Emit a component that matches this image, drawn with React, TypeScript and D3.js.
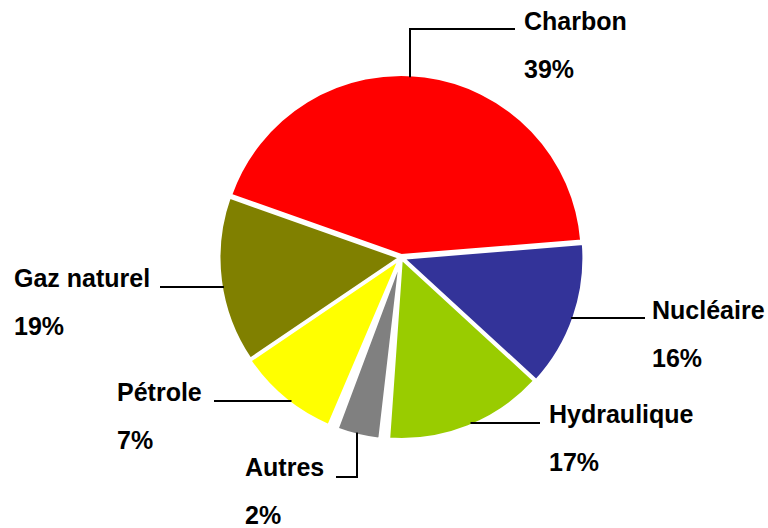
import React from 'react';
import * as d3 from 'd3';

// ---- data ----
const categories = ['Charbon', 'Nucléaire', 'Hydraulique', 'Autres', 'Pétrole', 'Gaz naturel'];
// slice sizes as drawn (share of the full circle, %)
const sliceShares = [43.3, 13.1, 14.3, 5.3, 9.1, 14.9];
// percentages printed on the labels
const percentLabels = ['39%', '16%', '17%', '2%', '7%', '19%'];
const colors = ['#FF0000', '#333399', '#99CC00', '#808080', '#FFFF00', '#808000'];

// ---- layout ----
const W = 768;
const H = 528;
const cx = 401;
const cy = 257.5;
const R = 181;
const startDeg = -70.5;
const explode = [2, 2, 1, 2, 2, 1];
const extraPad = [0, 0, 0, 0.09, 0, 0];

type LabelLayout = {
  kind: 'h' | 'v';
  at: number; // y for horizontal leader, x for vertical leader
  elbow?: number; // y of horizontal part for vertical leaders
  end: number; // x where leader ends
  tx: number;
  ty: number;
};

const labelLayout: LabelLayout[] = [
  { kind: 'v', at: 410, elbow: 29, end: 515, tx: 524, ty: 30 },
  { kind: 'h', at: 318, end: 645, tx: 652, ty: 319 },
  { kind: 'h', at: 423, end: 540, tx: 549, ty: 423 },
  { kind: 'v', at: 357, elbow: 477, end: 336, tx: 245, ty: 476 },
  { kind: 'h', at: 401, end: 214, tx: 117, ty: 401 },
  { kind: 'h', at: 287, end: 160, tx: 14, ty: 287 },
];

const FONT = "'Liberation Sans', Arial, Helvetica, sans-serif";

export default function App() {
  const pie = d3
    .pie<number>()
    .sort(null)
    .value((d) => d)
    .startAngle((startDeg * Math.PI) / 180)
    .endAngle((startDeg * Math.PI) / 180 + 2 * Math.PI);
  const arcs = pie(sliceShares);

  const arcGen = d3
    .arc<d3.PieArcDatum<number>>()
    .innerRadius(0)
    .outerRadius(R)
    .padAngle((d) => extraPad[d.index]);

  const centers = arcs.map((a, i) => {
    const mid = (a.startAngle + a.endAngle) / 2;
    return {
      x: cx + explode[i] * Math.sin(mid),
      y: cy - explode[i] * Math.cos(mid),
      mid,
    };
  });

  const rAnchor = R - 2.5;

  const leaders = labelLayout.map((L, i) => {
    const c = centers[i];
    const side = Math.sin(c.mid) >= 0 ? 1 : -1;
    const vert = Math.cos(c.mid) >= 0 ? -1 : 1;
    let pts: [number, number][];
    if (L.kind === 'h') {
      const dy = L.at - c.y;
      const dx = Math.sqrt(Math.max(0, rAnchor * rAnchor - dy * dy));
      const ax = c.x + side * dx;
      pts = [
        [ax, L.at],
        [L.end, L.at],
      ];
    } else {
      const dx = L.at - c.x;
      const dy = Math.sqrt(Math.max(0, rAnchor * rAnchor - dx * dx));
      const ay = c.y + vert * dy;
      pts = [
        [L.at, ay],
        [L.at, L.elbow as number],
        [L.end, L.elbow as number],
      ];
    }
    return d3.line()(pts) as string;
  });

  return (
    <svg
      width={W}
      height={H}
      viewBox={`0 0 ${W} ${H}`}
      style={{ position: 'absolute', left: 0, top: 0, display: 'block', background: '#fff' }}
    >
      <rect x={0} y={0} width={W} height={H} fill="#fff" />
      <g>
        {arcs.map((a, i) => (
          <path
            key={categories[i]}
            d={arcGen(a) as string}
            transform={`translate(${centers[i].x},${centers[i].y})`}
            fill={colors[i]}
            stroke="#fff"
            strokeWidth={3}
            strokeLinejoin="miter"
          />
        ))}
      </g>
      <g fill="none" stroke="#000" strokeWidth={2}>
        {leaders.map((d, i) => (
          <path key={i} d={d} />
        ))}
      </g>
      <g fontFamily={FONT} fontWeight="bold" fontSize={25} fill="#000">
        {labelLayout.map((L, i) => (
          <g key={i}>
            <text x={L.tx} y={L.ty}>
              {categories[i]}
            </text>
            <text x={L.tx} y={L.ty + 48}>
              {percentLabels[i]}
            </text>
          </g>
        ))}
      </g>
    </svg>
  );
}
